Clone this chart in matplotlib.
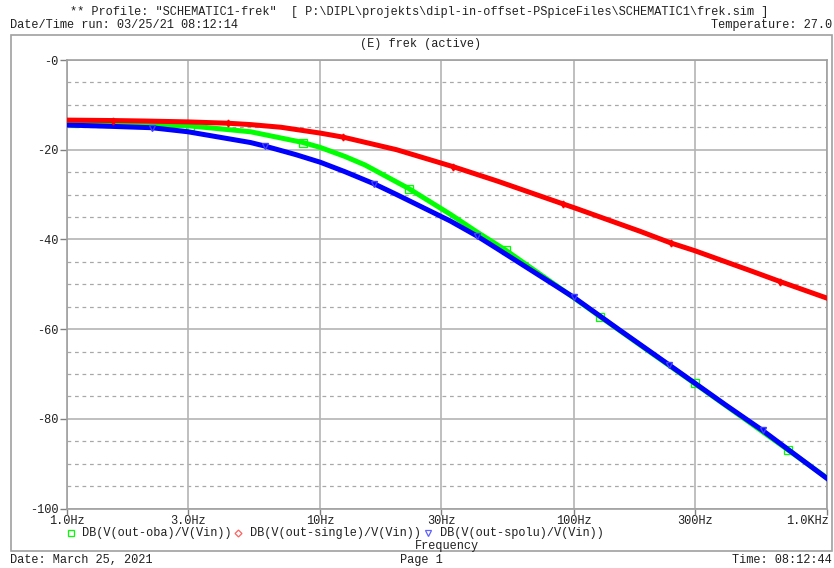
import matplotlib
matplotlib.use("Agg")
import matplotlib.pyplot as plt
from matplotlib.ticker import FixedLocator, FixedFormatter, NullLocator

plt.rcParams['font.family'] = ['Liberation Mono', 'DejaVu Sans Mono']
fs = 8.6

# data (frequency in Hz, gain in dB)
f_single = [1, 1.52, 2, 3, 4.33, 5.3, 7, 10, 12.3, 20, 33.5, 50, 90.9, 100, 183, 242, 300, 500, 653, 1000]
db_single = [-13.4, -13.5, -13.6, -13.8, -14.1, -14.4, -15.0, -16.3, -17.2, -20.0, -23.8, -27.0,
             -32.1, -32.9, -38.2, -40.8, -42.5, -47.0, -49.4, -53.1]
mk_single = [1, 4, 8, 10, 12, 15, 18]

f_oba = [1, 1.08, 2, 3.06, 5.3, 8.55, 10, 12.5, 15, 22.4, 32.6, 41.4, 53.9, 100, 127, 200, 300, 500, 700, 1000]
db_oba = [-14.1, -14.1, -14.4, -14.7, -16.0, -18.4, -19.5, -21.5, -23.4, -28.7, -34.4, -38.3, -42.4,
          -53.0, -57.2, -65.1, -72.1, -81.0, -86.9, -93.2]
mk_oba = [1, 3, 5, 9, 12, 14, 16, 18]

f_spolu = [1, 1.5, 2.16, 3, 5.3, 6.05, 8, 10, 12.5, 16.3, 20, 32.6, 41.4, 50, 100, 150, 237, 400, 557, 1000]
db_spolu = [-14.5, -14.8, -15.1, -16.0, -18.4, -19.2, -21.1, -22.8, -24.9, -27.6, -30.0, -35.9, -39.2, -42.1,
            -52.9, -60.0, -67.9, -77.0, -82.6, -93.3]
mk_spolu = [2, 5, 9, 12, 14, 16, 18]

xticks = [1, 3, 10, 30, 100, 300, 1000]
xlabels = ["1.0Hz", "3.0Hz", "10Hz", "30Hz", "100Hz", "300Hz", "1.0KHz"]
yticks = [0, -20, -40, -60, -80, -100]
ylabels = ["-0", "-20", "-40", "-60", "-80", "-100"]

W, H = 834, 568
fig = plt.figure(figsize=(W / 100, H / 100), dpi=100)

# overlay in pixel coordinates for the page texts and frame
page = fig.add_axes([0, 0, 1, 1])
page.set_xlim(0, W)
page.set_ylim(H, 0)
page.axis("off")

# plot area
L, R, T, B = 67, 827, 60, 508.5
ax = fig.add_axes([L / W, (H - B) / H, (R - L) / W, (B - T) / H])
ax.set_xscale("log")
ax.set_xlim(1, 1000)
ax.set_ylim(-100, 0)

for v in range(-95, 0, 5):
    if v % 20 != 0:
        ax.axhline(v, color="#a8a8a8", lw=0.9, ls=(0, (3, 3)), zorder=1)
for v in yticks:
    ax.axhline(v, color="#b4b4b4", lw=1.2, zorder=1)
for f in xticks:
    ax.axvline(f, color="#b4b4b4", lw=1.2, zorder=1)

ax.plot(f_oba, db_oba, color="#00ff00", lw=3.6, zorder=3,
        marker="s", ms=6, mfc="none", mec="#00ff00", mew=0.9, markevery=mk_oba)
ax.plot(f_spolu, db_spolu, color="#0000ff", lw=3.6, zorder=4,
        marker="v", ms=4.5, mfc="#0000ff", mec="#4040ff", markevery=mk_spolu)
ax.plot(f_single, db_single, color="#ff0000", lw=3.6, zorder=5,
        marker="d", ms=3.5, mfc="#ff0000", mec="#ff0000", markevery=mk_single)

ax.xaxis.set_major_locator(FixedLocator(xticks))
ax.xaxis.set_major_formatter(FixedFormatter([""] * len(xticks)))
ax.xaxis.set_minor_locator(NullLocator())
ax.yaxis.set_major_locator(FixedLocator(yticks))
ax.yaxis.set_major_formatter(FixedFormatter(ylabels))
ax.yaxis.set_minor_locator(NullLocator())
ax.tick_params(axis="y", length=5, width=1, color="#808080", pad=1, labelsize=fs, labelcolor="#202020")
ax.tick_params(axis="x", length=4, width=1, color="#808080", direction="out")
for s in ax.spines.values():
    s.set_color("#a0a0a0")
    s.set_linewidth(1.2)

# x tick labels, last one right aligned like PSpice
for f, lab in zip(xticks, xlabels):
    xp = L + (R - L) * (len(str(f)) - 1 + (0.4771 if str(f)[0] == "3" else 0)) / 3
    ha = "right" if f == 1000 else "center"
    page.text(xp + (2 if f == 1000 else 0), 521, lab, fontsize=fs, ha=ha, va="center", color="#202020")

# page frame
page.add_patch(plt.Rectangle((11, 35), 821, 516, fill=False, ec="#a0a0a0", lw=1.2))

tc = "#202020"
page.text(70, 12, '** Profile: "SCHEMATIC1-frek"  [ P:\\DIPL\\projekts\\dipl-in-offset-PSpiceFiles\\SCHEMATIC1\\frek.sim ]',
          fontsize=fs, va="center", color=tc)
page.text(10, 25, "Date/Time run: 03/25/21 08:12:14", fontsize=fs, va="center", color=tc)
page.text(832, 25, "Temperature: 27.0", fontsize=fs, va="center", ha="right", color=tc)
page.text(421, 44, "(E) frek (active)", fontsize=fs, va="center", ha="center", color=tc)

# legend row
page.plot([71], [533], marker="s", ms=4, mfc="none", mec="#00ff00", mew=0.9)
page.text(82, 533, "DB(V(out-oba)/V(Vin))", fontsize=fs, va="center", color=tc)
page.plot([238], [533], marker="D", ms=3.5, mfc="none", mec="#ff6060", mew=0.9)
page.text(250, 533, "DB(V(out-single)/V(Vin))", fontsize=fs, va="center", color=tc)
page.plot([428], [533], marker="v", ms=4, mfc="none", mec="#6060ff", mew=0.9)
page.text(440, 533, "DB(V(out-spolu)/V(Vin))", fontsize=fs, va="center", color=tc)
page.text(447, 546, "Frequency", fontsize=fs, va="center", ha="center", color=tc)

page.text(10, 560, "Date: March 25, 2021", fontsize=fs, va="center", color=tc)
page.text(400, 560, "Page 1", fontsize=fs, va="center", color=tc)
page.text(832, 560, "Time: 08:12:44", fontsize=fs, va="center", ha="right", color=tc)

fig.savefig("out.png", dpi=100, facecolor="white")
